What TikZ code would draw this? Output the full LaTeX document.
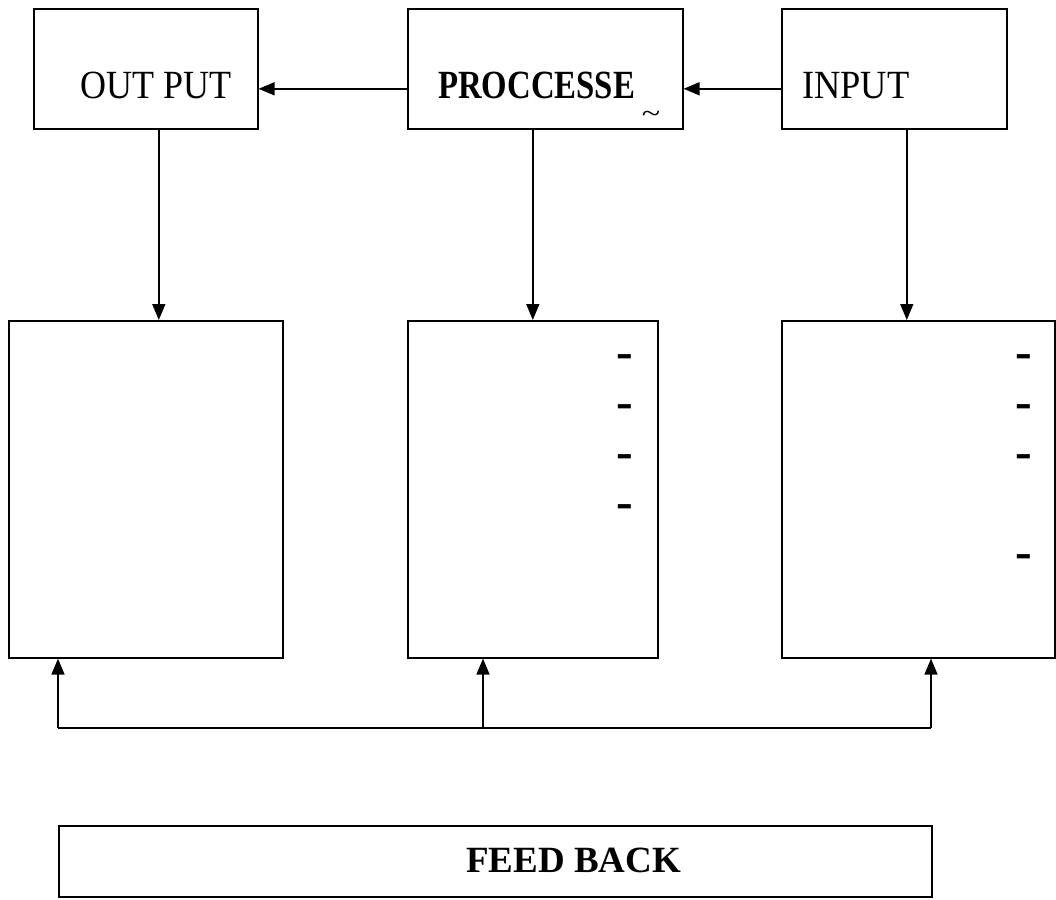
\documentclass[tikz,border=0pt]{standalone}
\usepackage{fontspec}
\usepackage{graphicx}
\setmainfont{Liberation Serif}
\usetikzlibrary{arrows.meta,calc}
\tikzset{
  box/.style={draw, line width=1.6pt, inner sep=0pt, anchor=north west},
  arr/.style={line width=1.6pt, -{Triangle[length=16pt,width=13pt]}},
  lbl/.style={anchor=base west, inner sep=0pt, font=\fontsize{40}{48}\selectfont},
  blbl/.style={lbl, font=\fontsize{40}{48}\selectfont\bfseries},
  dashmark/.style={anchor=base, inner sep=0pt, font=\fontsize{50}{56}\selectfont\bfseries}
}
\begin{document}
\begin{tikzpicture}[x=1pt,y=-1pt]
  \useasboundingbox (0,0) rectangle (1056,899);

  % top row
  \node[box, minimum width=224pt, minimum height=120pt] (out)   at (33,8)  {};
  \node[box, minimum width=275pt, minimum height=120pt] (proc)  at (407,8) {};
  \node[box, minimum width=225pt, minimum height=120pt] (input) at (781,8) {};

  \node[lbl]  (outT)  at (80,98)  {\scalebox{0.9}[1]{OUT PUT}};
  \node[blbl] (procT) at (438,98) {\scalebox{0.82}[1]{PROCCESSE}};
  \node[lbl]  (inT)   at (802,98) {\scalebox{0.91}[1]{INPUT}};
  \node[anchor=center, inner sep=0pt, font=\fontsize{34}{38}\selectfont] (tl) at (651,117) {\scalebox{1}[0.8]{\textasciitilde}};

  % lower row
  \node[box, minimum width=274pt, minimum height=337pt] (lo1) at (8,320)   {};
  \node[box, minimum width=250pt, minimum height=337pt] (lo2) at (407,320) {};
  \node[box, minimum width=273pt, minimum height=337pt] (lo3) at (781,320) {};

  % marks in the lower boxes
  \foreach \y [count=\i] in {357,407,457,507}
    \node[dashmark] (m2\i) at (624.5,\y+11) {-};
  \foreach \y [count=\i] in {357,407,457,557}
    \node[dashmark] (m3\i) at (1023.5,\y+11) {-};

  % feedback box
  \node[box, minimum width=873pt, minimum height=71pt] (fb) at (58,825) {};
  \node[anchor=base west, inner sep=0pt, font=\fontsize{37}{44}\selectfont\bfseries] (fbT) at (466,872) {FEED BACK};

  % horizontal flow
  \draw[arr] ([yshift=-20pt]proc.west) -- ([yshift=-20pt]out.east);
  \draw[arr] ([yshift=-20pt]input.west) -- ([yshift=-20pt]proc.east);

  % downward flow
  \draw[arr] ([xshift=13pt]out.south) -- ([xshift=13pt]out.south |- lo1.north);
  \draw[arr] (proc.south -| lo2.north) -- (lo2.north);
  \draw[arr] ([xshift=12.5pt]input.south) -- ([xshift=12.5pt]input.south |- lo3.north);

  % feedback line
  \coordinate (fl) at (58,728);
  \coordinate (fm) at (483,728);
  \coordinate (fr) at (931,728);
  \draw[line width=1.6pt] (fl) -- (fr);
  \draw[arr] (fl) -- (fl |- lo1.south);
  \draw[arr] (fm) -- (fm |- lo2.south);
  \draw[arr] (fr) -- (fr |- lo3.south);
\end{tikzpicture}
\end{document}
